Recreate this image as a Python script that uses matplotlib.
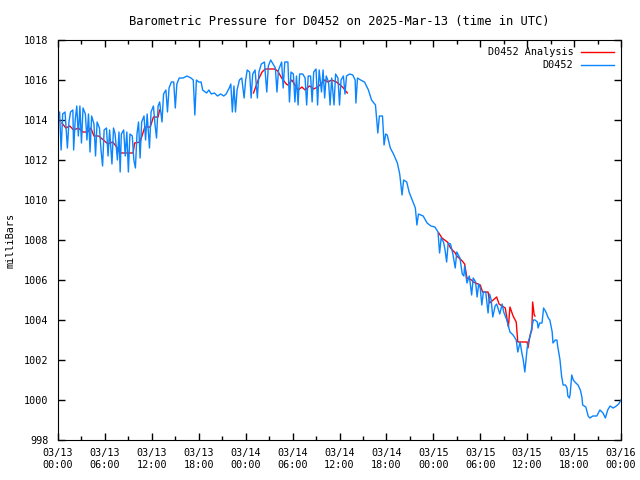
import datetime as dt
import numpy as np
import matplotlib
matplotlib.use("Agg")
import matplotlib.pyplot as plt
import matplotlib.dates as mdates

# hours after 2025-03-13 00:00 UTC, pressure in mb
obs_hours = [
    0.0, 0.2, 0.4, 0.6, 0.9, 1.2, 1.4, 1.6, 1.9, 2.0, 2.2, 2.4, 2.6, 2.8, 3.0, 3.2, 3.5, 3.7, 3.9, 4.1,
    4.3, 4.6, 4.8, 5.0, 5.3, 5.5, 5.7, 5.9, 6.2, 6.4, 6.6, 6.9, 7.1, 7.3, 7.6, 7.8, 7.95, 8.1, 8.4, 8.6,
    8.8, 9.0, 9.2, 9.5, 9.7, 9.9, 10.1, 10.3, 10.5, 10.7, 11.0, 11.2, 11.4, 11.7, 11.9, 12.2, 12.4, 12.6, 12.8, 13.0,
    13.3, 13.5, 13.8, 14.0, 14.2, 14.5, 14.8, 15.0, 15.2, 15.5, 16.0, 16.5, 17.0, 17.3, 17.5, 17.7, 18.0, 18.3, 18.5, 19.0,
    19.3, 19.6, 20.0, 20.4, 20.8, 21.2, 21.5, 21.9, 22.1, 22.3, 22.5, 22.7, 22.9, 23.2, 23.5, 23.8, 24.0, 24.2, 24.5, 24.7,
    24.9, 25.2, 25.5, 25.7, 26.0, 26.4, 26.7, 26.9, 27.2, 27.5, 27.8, 28.0, 28.2, 28.6, 28.8, 29.0, 29.4, 29.6, 29.8, 30.1,
    30.3, 30.5, 30.7, 30.9, 31.3, 31.6, 31.8, 32.0, 32.3, 32.5, 32.7, 33.0, 33.2, 33.4, 33.7, 33.9, 34.1, 34.3, 34.6, 34.8,
    35.0, 35.3, 35.5, 35.8, 36.0, 36.2, 36.5, 36.7, 36.9, 37.3, 37.7, 38.0, 38.1, 38.3, 38.7, 39.2, 39.7, 40.1, 40.6, 40.9,
    41.1, 41.5, 41.7, 41.9, 42.1, 42.5, 42.9, 43.4, 43.7, 44.0, 44.2, 44.6, 44.9, 45.3, 45.7, 45.9, 46.1, 46.7, 47.2, 47.7,
    48.2, 48.6, 48.8, 49.0, 49.3, 49.5, 49.7, 49.9, 50.2, 50.5, 50.8, 51.0, 51.4, 51.7, 51.9, 52.0, 52.3, 52.6, 52.9, 53.1,
    53.4, 53.6, 53.8, 54.0, 54.2, 54.4, 54.7, 55.0, 55.2, 55.4, 55.6, 55.9, 56.1, 56.5, 56.8, 57.0, 57.2, 57.4, 57.8, 58.2,
    58.6, 58.8, 59.1, 59.3, 59.5, 59.7, 60.0, 60.2, 60.4, 60.6, 60.8, 61.0, 61.3, 61.4, 61.6, 61.9, 62.1, 62.4, 62.7, 62.9,
    63.2, 63.3, 63.6, 63.8, 63.9, 64.2, 64.4, 64.6, 64.9, 65.1, 65.2, 65.4, 65.5, 65.7, 65.9, 66.1, 66.5, 66.8, 67.0, 67.1,
    67.5, 67.8, 68.0, 68.4, 68.9, 69.3, 69.7, 70.0, 70.3, 70.6, 71.0, 71.4, 71.7, 72.0,
]
obs_mb = [
    1014.3, 1014.4, 1012.5, 1014.3, 1014.4, 1012.6, 1013.9, 1014.4, 1014.5, 1012.5, 1014.0, 1014.7, 1013.2, 1014.7, 1012.85, 1014.6, 1014.3, 1013.0, 1014.3, 1012.4,
    1014.2, 1013.8, 1012.2, 1013.9, 1013.6, 1012.5, 1011.7, 1013.5, 1013.6, 1012.2, 1013.5, 1011.8, 1013.6, 1013.3, 1012.0, 1013.4, 1011.4, 1013.3, 1013.5, 1012.2,
    1013.4, 1011.4, 1013.3, 1013.2, 1012.0, 1011.6, 1013.3, 1013.9, 1012.1, 1013.9, 1014.2, 1013.0, 1014.3, 1012.6, 1014.4, 1014.7, 1013.8, 1013.1, 1014.7, 1014.9,
    1013.9, 1015.3, 1015.5, 1014.4, 1015.6, 1015.9, 1015.9, 1014.6, 1015.8, 1016.1, 1016.1, 1016.2, 1016.1, 1016.0, 1014.25, 1016.0, 1015.9, 1015.9, 1015.5, 1015.35,
    1015.5, 1015.3, 1015.35, 1015.2, 1015.3, 1015.2, 1015.3, 1015.6, 1015.8, 1014.4, 1015.7, 1014.4, 1015.5, 1016.0, 1016.1, 1015.1, 1016.0, 1016.5, 1016.4, 1015.1,
    1016.3, 1016.5, 1015.1, 1016.4, 1016.8, 1016.9, 1015.4, 1016.7, 1017.0, 1016.8, 1016.6, 1015.4, 1016.5, 1016.9, 1015.6, 1016.9, 1016.9, 1014.9, 1016.4, 1016.3,
    1014.9, 1016.2, 1014.75, 1016.3, 1016.3, 1016.1, 1014.75, 1016.2, 1016.2, 1014.9, 1016.4, 1016.55, 1014.75, 1016.5, 1015.4, 1016.5, 1015.1, 1016.2, 1015.9, 1014.75,
    1016.1, 1014.75, 1016.3, 1016.1, 1014.75, 1016.0, 1016.2, 1015.3, 1016.2, 1016.3, 1016.25, 1016.0, 1014.85, 1016.1, 1016.0, 1015.9, 1015.5, 1015.0, 1014.75, 1013.35,
    1014.2, 1014.2, 1012.75, 1013.3, 1013.25, 1012.6, 1012.3, 1011.85, 1011.3, 1010.25, 1011.0, 1010.9, 1010.4, 1010.0, 1009.6, 1008.75, 1009.3, 1009.2, 1008.85, 1008.7,
    1008.65, 1008.4, 1007.35, 1008.1, 1007.9, 1007.5, 1006.9, 1007.85, 1007.8, 1007.3, 1006.6, 1007.4, 1007.1, 1006.3, 1006.2, 1006.7, 1005.85, 1006.2, 1005.25, 1006.1,
    1005.9, 1005.15, 1005.8, 1005.6, 1004.75, 1005.4, 1005.4, 1004.35, 1005.3, 1005.0, 1004.15, 1004.7, 1004.8, 1004.3, 1004.8, 1004.4, 1004.2, 1004.0, 1003.4, 1003.25,
    1003.0, 1002.4, 1002.9, 1002.4, 1002.0, 1001.4, 1002.6, 1003.0, 1003.2, 1003.65, 1004.0, 1004.0, 1003.9, 1003.6, 1003.85, 1003.85, 1004.6, 1004.4, 1004.1, 1004.0,
    1003.4, 1002.85, 1003.0, 1003.0, 1002.7, 1002.0, 1001.2, 1000.75, 1000.75, 1000.6, 1000.2, 1000.1, 1000.3, 1001.25, 1001.0, 1000.9, 1000.75, 1000.5, 1000.15, 999.75,
    999.65, 999.2, 999.1, 999.2, 999.2, 999.5, 999.35, 999.1, 999.5, 999.7, 999.6, 999.7, 999.8, 1000.0,
]

# analysis series (nan = gap between the three runs)
ana_hours = [
    0.5, 1.0, 1.5, 2.0, 2.6, 3.2, 3.8, 4.2, 4.6, 5.2, 5.8, 6.4, 7.0, 7.6, 7.9, 8.6, 9.6, 9.8, 10.5, 11.1, 11.8, 12.2, 12.8, 13.0,
    13.1,
    25.0, 25.6, 26.1, 26.5, 27.7, 28.1, 28.6, 29.2, 29.4, 29.9, 30.3, 30.7, 31.2, 31.6, 32.0, 32.2, 32.7, 33.2, 33.5, 34.1,
    34.5, 35.0, 35.6, 36.1, 36.5, 37.0,
    37.1,
    48.7, 49.1, 49.8, 50.2, 50.8, 51.0, 51.7, 52.0, 52.3, 52.9, 53.1, 54.0, 54.3, 55.0, 55.2, 56.1, 56.4, 57.0, 57.2, 57.6,
    57.8, 58.2, 58.6, 58.8, 60.0, 60.1, 60.4, 60.6, 60.7, 60.9, 61.0,
]
ana_mb = [
    1013.85, 1013.6, 1013.7, 1013.5, 1013.6, 1013.4, 1013.4, 1013.6, 1013.2, 1013.2, 1013.0, 1012.8, 1012.9, 1012.6, 1012.35, 1012.35, 1012.35, 1012.85, 1012.9, 1013.65, 1013.65, 1014.15, 1014.15, 1014.5,
    np.nan,
    1015.35, 1016.0, 1016.4, 1016.55, 1016.55, 1016.45, 1016.1, 1015.8, 1015.75, 1016.0, 1015.75, 1015.5, 1015.65, 1015.5, 1015.65, 1015.7, 1015.55, 1015.65, 1015.75, 1016.0,
    1015.9, 1016.0, 1015.9, 1015.75, 1015.6, 1015.35,
    np.nan,
    1008.35, 1008.1, 1007.9, 1007.6, 1007.35, 1007.2, 1006.95, 1006.8, 1006.1, 1006.0, 1005.9, 1005.75, 1005.4, 1005.4, 1004.85, 1005.15, 1004.8, 1004.65, 1004.6, 1003.65,
    1004.65, 1004.2, 1003.9, 1002.9, 1002.9, 1002.6, 1003.3, 1003.5, 1004.9, 1004.25, 1004.2,
]

start = dt.datetime(2025, 3, 13)
obs_t = [start + dt.timedelta(hours=h) for h in obs_hours]
ana_t = [start + dt.timedelta(hours=h) for h in ana_hours]

plt.rcParams['font.family'] = 'DejaVu Sans Mono'
plt.rcParams['font.size'] = 7.3

fig = plt.figure(figsize=(6.4, 4.8), dpi=100)
ax = fig.add_axes([58 / 640, 40 / 480, 563 / 640, 400 / 480])

ax.plot(ana_t, ana_mb, color='#ff0000', lw=1.0, label='D0452 Analysis')
ax.plot(obs_t, obs_mb, color='#0a84ff', lw=1.0, label='D0452')

ax.set_xlim(start, start + dt.timedelta(hours=72))
ax.set_ylim(998, 1018)
ax.set_yticks(np.arange(998, 1019, 2))
ax.xaxis.set_major_locator(mdates.HourLocator(byhour=[0, 6, 12, 18]))
ax.xaxis.set_minor_locator(mdates.HourLocator(interval=3))
ax.xaxis.set_major_formatter(mdates.DateFormatter('%m/%d\n%H:%M'))
ax.tick_params(which='both', direction='in', top=True, right=True, width=1)
ax.tick_params(which='major', length=5, pad=6)
ax.tick_params(which='minor', length=3)
ax.tick_params(axis='y', pad=7)

ax.set_ylabel('milliBars', labelpad=6)
ax.set_title('Barometric Pressure for D0452 on 2025-Mar-13 (time in UTC)', pad=11)

ax.legend(loc='upper right', frameon=False, markerfirst=False, handlelength=3.2,
          borderaxespad=0.3, labelspacing=0.3)

plt.savefig('out.png', dpi=100)
